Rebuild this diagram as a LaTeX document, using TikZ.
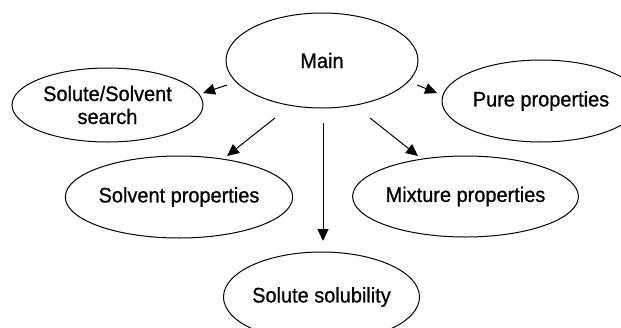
\documentclass[tikz,border=0pt]{standalone}
\usepackage{fontspec}
\setmainfont[FakeStretch=0.95,FakeBold=0.8]{Liberation Sans}
\usetikzlibrary{shapes.geometric,arrows.meta,calc}
\begin{document}
\begin{tikzpicture}[x=1pt,y=-1pt,
  bubble/.style={draw=black,ellipse,line width=1pt,inner sep=0pt,align=center,
    font=\fontsize{21}{23}\selectfont},
  arr/.style={line width=1pt,-{Triangle[length=12pt,width=11pt]}}]
\useasboundingbox (0,0) rectangle (621,327);
\clip (0,0) rectangle (621,327);
\fill[white] (0,0) rectangle (621,327);
\node[bubble,minimum width=192pt,minimum height=95pt] (main) at (322,60.5) {Main};
\node[bubble,minimum width=191pt,minimum height=74pt] (ss) at (107.5,105) {Solute/Solvent\\search};
\node[bubble,minimum width=198pt,minimum height=82pt] (pure) at (541,101) {Pure properties};
\node[bubble,minimum width=192pt,minimum height=82pt] (solv) at (179,197) {Solvent properties};
\node[bubble,minimum width=191pt,minimum height=81pt] (mix) at (465.5,196.5) {Mixture properties};
\node[bubble,minimum width=193pt,minimum height=90pt] (sol) at (321.5,297) {Solute solubility};
\draw[arr] ($(main)+(-95,24.5)$) -- ($(ss)+(95.5,-12)$);
\draw[arr] ($(main)+(95,24.5)$) -- ($(pure)+(-104,-8)$);
\draw[arr] ($(main)+(-47,57.5)$) -- ($(solv)+(48,-41)$);
\draw[arr] ($(main)+(1,62.5)$) -- ($(sol)+(1.5,-56)$);
\draw[arr] ($(main)+(48,57.5)$) -- ($(mix)+(-47.5,-40.5)$);
\end{tikzpicture}
\end{document}
